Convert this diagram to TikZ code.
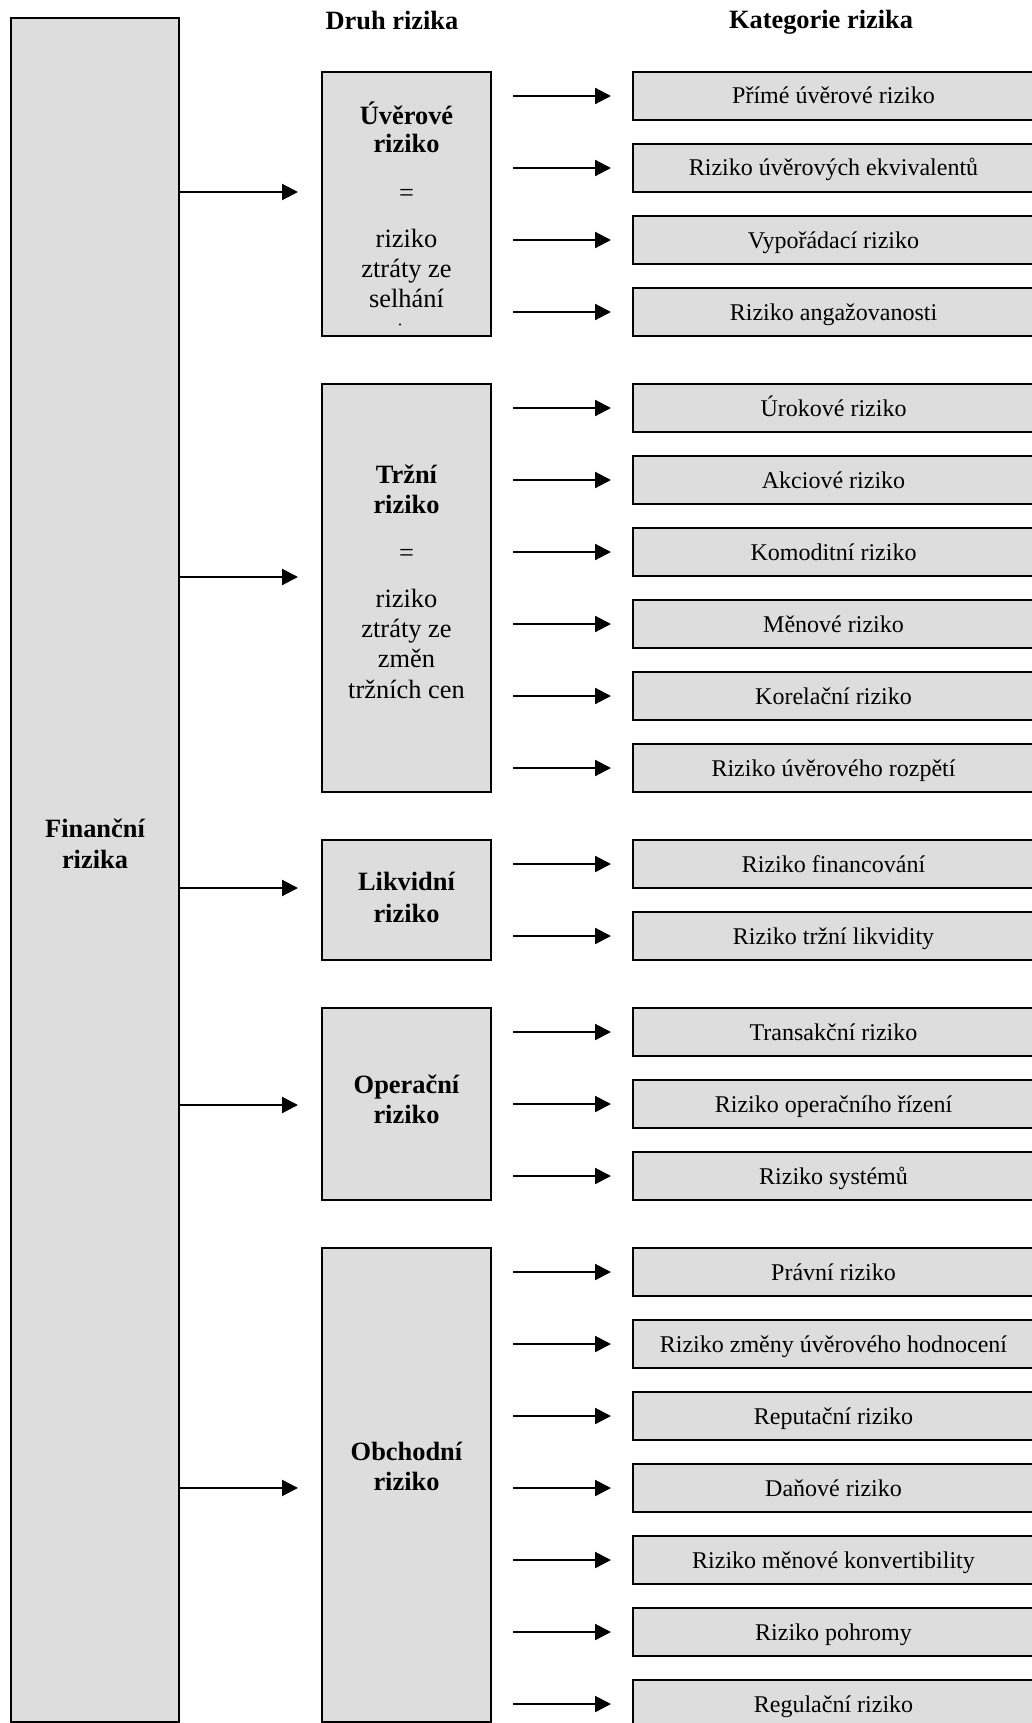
\documentclass[tikz,border=0pt]{standalone}
\usepackage{fontspec}
\setmainfont{Liberation Serif}
\usetikzlibrary{arrows.meta}
\definecolor{boxfill}{RGB}{221,221,221}

\begin{document}
\begin{tikzpicture}[x=0.5pt,y=-0.5pt,
  every node/.style={inner sep=0pt, outer sep=0pt},
  frame/.style={draw=black, line width=1pt, fill=boxfill},
  arr/.style={line width=1.1pt, -{Triangle[length=8pt,width=8pt]}},
  head/.style={font=\fontsize{13.2}{15}\selectfont\bfseries, anchor=base},
  midB/.style={font=\fontsize{13.2}{15}\selectfont\bfseries, anchor=base},
  midN/.style={font=\fontsize{13.2}{15}\selectfont, anchor=base},
  kind/.style={frame, minimum width=84.5pt, anchor=north west},
  cat/.style={frame, minimum width=200.5pt, minimum height=24pt,
    font=\fontsize{12}{14}\selectfont, text height=10pt, text depth=2pt,
    anchor=north west}]

\path[use as bounding box, clip] (0,0) rectangle (1032,1723);

% column headings
\node[head] (hDruh) at (392,30) {Druh rizika};
\node[head] (hKat) at (821,29) {Kategorie rizika};

% root box
\node[frame, minimum width=84pt, minimum height=851.9pt, anchor=north west] (fin) at (11,17.7) {};
\node[midB] (fin1) at (95,837) {Finanční};
\node[midB] (fin2) at (95,868) {rizika};

% kinds of risk
\node[kind, minimum height=132pt] (uv) at (322,72) {};
\node[kind, minimum height=204pt] (tr) at (322,384) {};
\node[kind, minimum height=60pt] (li) at (322,840) {};
\node[kind, minimum height=96pt] (op) at (322,1008) {};
\node[kind, minimum height=236.75pt] (ob) at (322,1248) {};

\node[midB] (uv1) at (406.5,125) {Úvěrové};
\node[midB] (uv2) at (406.5,153) {riziko};
\node[midN] (uv3) at (406.5,201) {=};
\node[midN] (uv4) at (406.5,247) {riziko};
\node[midN] (uv5) at (406.5,277) {ztráty ze};
\node[midN] (uv6) at (406.5,307) {selhání};
\fill (400,324.5) circle (0.6pt);

\node[midB] (tr1) at (406.5,483) {Tržní};
\node[midB] (tr2) at (406.5,513) {riziko};
\node[midN] (tr3) at (406.5,561) {=};
\node[midN] (tr4) at (406.5,607) {riziko};
\node[midN] (tr5) at (406.5,637) {ztráty ze};
\node[midN] (tr6) at (406.5,667) {změn};
\node[midN] (tr7) at (406.5,698) {tržních cen};

\node[midB] (li1) at (406.5,890) {Likvidní};
\node[midB] (li2) at (406.5,922) {riziko};

\node[midB] (op1) at (406.5,1093) {Operační};
\node[midB] (op2) at (406.5,1123) {riziko};

\node[midB] (ob1) at (406.5,1460) {Obchodní};
\node[midB] (ob2) at (406.5,1490) {riziko};

% arrows from the root box
\coordinate (uvIn) at ([yshift=6pt]uv.west);
\coordinate (trIn) at ([yshift=5.5pt]tr.west);
\coordinate (liIn) at ([yshift=6pt]li.west);
\coordinate (opIn) at ([yshift=-0.5pt]op.west);
\coordinate (obIn) at ([yshift=-1.6pt]ob.west);
\foreach \k in {uv,tr,li,op,ob}
  \draw[arr, shorten >=12pt] (\k In -| fin.east) -- (\k In);

% categories of risk
\foreach \name/\top/\txt/\src in {
  c1/72/Přímé úvěrové riziko/uv,
  c2/144/Riziko úvěrových ekvivalentů/uv,
  c3/216/Vypořádací riziko/uv,
  c4/288/Riziko angažovanosti/uv,
  c5/384/Úrokové riziko/tr,
  c6/456/Akciové riziko/tr,
  c7/528/Komoditní riziko/tr,
  c8/600/Měnové riziko/tr,
  c9/672/Korelační riziko/tr,
  c10/744/Riziko úvěrového rozpětí/tr,
  c11/840/Riziko financování/li,
  c12/912/Riziko tržní likvidity/li,
  c13/1008/Transakční riziko/op,
  c14/1080/Riziko operačního řízení/op,
  c15/1152/Riziko systémů/op,
  c16/1248/Právní riziko/ob,
  c17/1320/Riziko změny úvěrového hodnocení/ob,
  c18/1392/Reputační riziko/ob,
  c19/1464/Daňové riziko/ob,
  c20/1536/Riziko měnové konvertibility/ob,
  c21/1608/Riziko pohromy/ob,
  c22/1680/Regulační riziko/ob}
{
  \node[cat] (\name) at (633,\top) {\txt};
  \draw[arr, shorten <=11pt, shorten >=11pt] (\name.west -| \src.east) -- (\name.west);
}
\end{tikzpicture}
\end{document}
